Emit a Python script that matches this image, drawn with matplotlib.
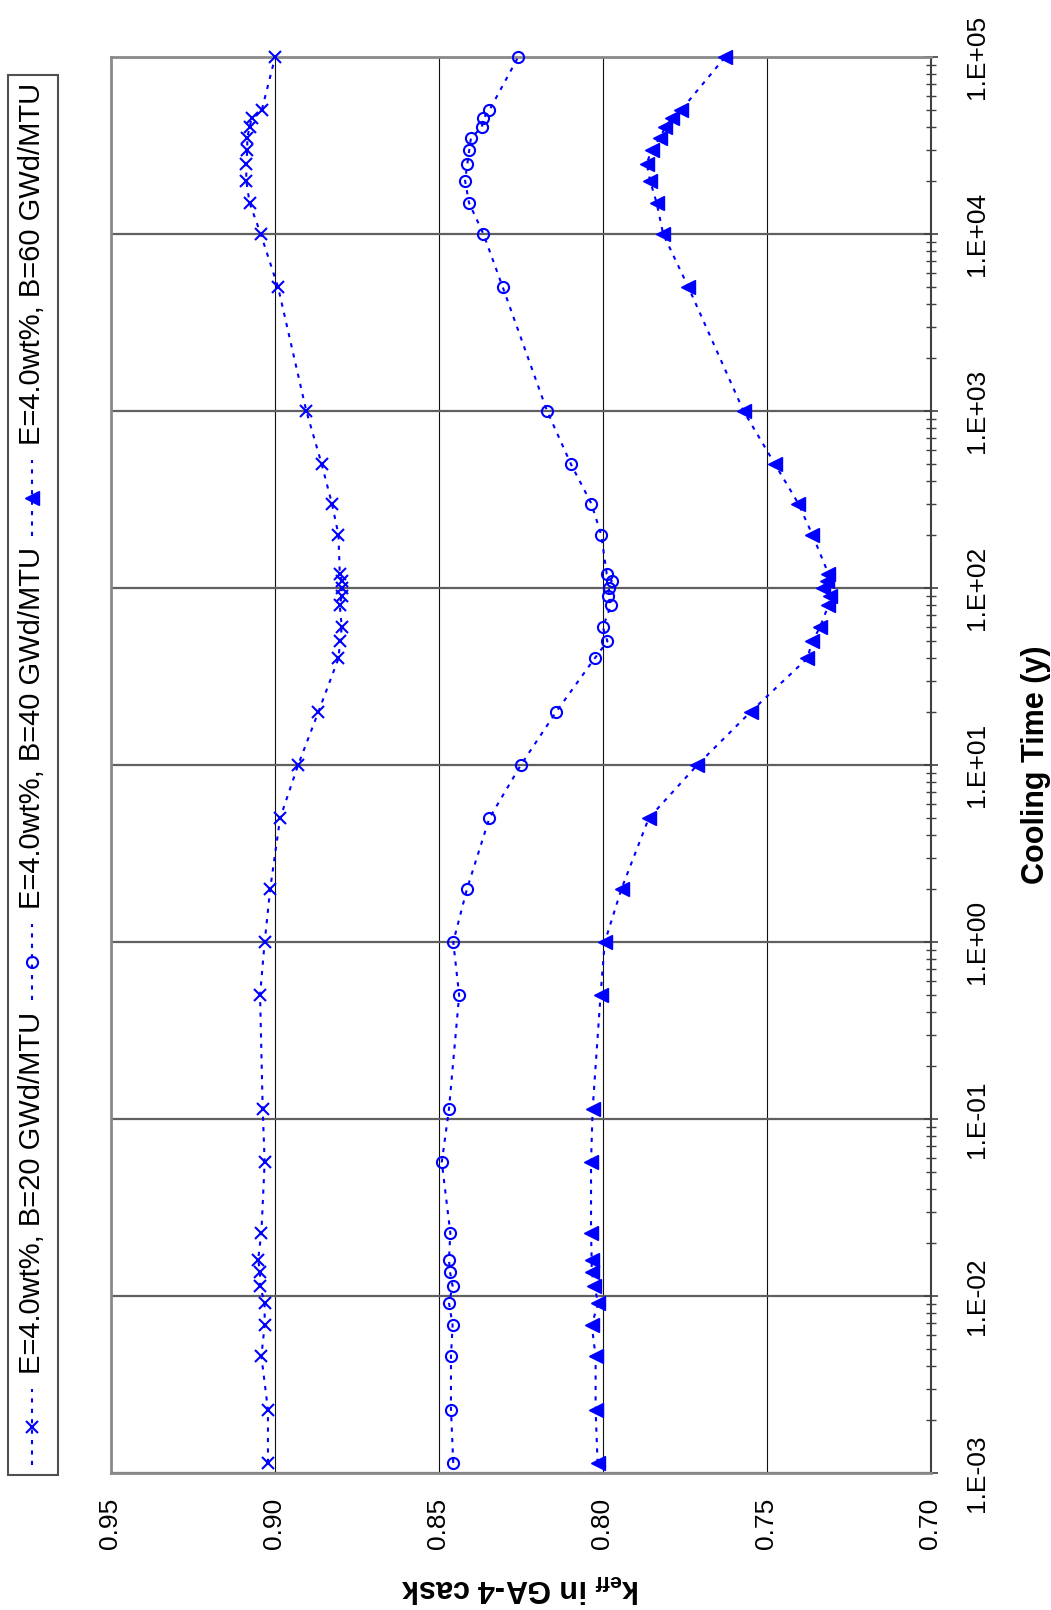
import numpy as np
import matplotlib
matplotlib.use("Agg")
from matplotlib import pyplot as plt
from matplotlib.lines import Line2D
from matplotlib.patches import Rectangle
from matplotlib.ticker import FixedLocator, FuncFormatter, LogLocator, NullFormatter

plt.rcParams['font.family'] = ['Liberation Sans', 'DejaVu Sans']
plt.rcParams['mathtext.fontset'] = 'custom'
plt.rcParams['mathtext.rm'] = 'Liberation Sans'
plt.rcParams['mathtext.bf'] = 'Liberation Sans:bold'
plt.rcParams['mathtext.it'] = 'Liberation Sans:italic'

# cooling time in years (same times for all three burnups)
cooling_time = [1.14e-3, 2.28e-3, 4.57e-3, 6.85e-3, 9.13e-3, 1.14e-2, 1.37e-2, 1.6e-2,
                2.28e-2, 5.7e-2, 0.114, 0.5, 1, 2, 5, 10, 20, 40, 50, 60, 80, 90, 100,
                110, 120, 200, 300, 500, 1000, 5000, 1e4, 1.5e4, 2e4, 2.5e4, 3e4,
                3.5e4, 4e4, 4.5e4, 5e4, 1e5]

keff_b20 = [0.9020, 0.9020, 0.9040, 0.9030, 0.9030, 0.9044, 0.9044, 0.9050, 0.9040,
            0.9030, 0.9036, 0.9044, 0.9030, 0.9013, 0.8983, 0.8928, 0.8866, 0.8805,
            0.8800, 0.8795, 0.8801, 0.8795, 0.8795, 0.8795, 0.8801, 0.8805, 0.8825,
            0.8856, 0.8903, 0.8989, 0.9042, 0.9076, 0.9086, 0.9086, 0.9083, 0.9083,
            0.9076, 0.9070, 0.9039, 0.8998]

keff_b40 = [0.8455, 0.8462, 0.8462, 0.8457, 0.8468, 0.8457, 0.8465, 0.8468, 0.8464,
            0.8490, 0.8468, 0.8437, 0.8455, 0.8413, 0.8345, 0.8249, 0.8141, 0.8024,
            0.7985, 0.7999, 0.7974, 0.7982, 0.7980, 0.7972, 0.7987, 0.8004, 0.8034,
            0.8096, 0.8169, 0.8304, 0.8363, 0.8407, 0.8419, 0.8412, 0.8406, 0.8401,
            0.8368, 0.8363, 0.8345, 0.8257]

keff_b60 = [0.8015, 0.8021, 0.8021, 0.8033, 0.8013, 0.8025, 0.8033, 0.8033, 0.8035,
            0.8035, 0.8030, 0.8006, 0.7993, 0.7942, 0.7859, 0.7711, 0.7548, 0.7376,
            0.7360, 0.7337, 0.7311, 0.7306, 0.7328, 0.7316, 0.7311, 0.7360, 0.7403,
            0.7474, 0.7570, 0.7738, 0.7815, 0.7835, 0.7855, 0.7865, 0.7850, 0.7825,
            0.7809, 0.7789, 0.7761, 0.7626]

series_labels = ["E=4.0wt%, B=20 GWd/MTU", "E=4.0wt%, B=40 GWd/MTU", "E=4.0wt%, B=60 GWd/MTU"]
keff_ticks = [0.95, 0.90, 0.85, 0.80, 0.75, 0.70]
time_decades = [1e-3, 1e-2, 1e-1, 1e0, 1e1, 1e2, 1e3, 1e4, 1e5]

W, H = 1051, 1610
fig = plt.figure(figsize=(W / 100, H / 100), dpi=100)

def fx(x):
    return x / W

def fy(y):
    # pixel measured from the top of the image
    return 1 - y / H

# the whole chart is turned on its side: keff runs left->right (inverted), time runs upwards
ax = fig.add_axes([fx(110.5), fy(1473), fx(930.5) - fx(110.5), fy(57) - fy(1473)])

blue = '#0000ff'
dash = (0, (2, 3))
styles = [
    dict(marker='x', ms=9, mew=1.5, mec=blue, mfc=blue),
    dict(marker='o', ms=8, mew=1.5, mec=blue, mfc='none'),
    dict(marker='<', ms=10, mew=1, mec=blue, mfc=blue),
]
all_keff = [keff_b20, keff_b40, keff_b60]

for keff, st in zip(all_keff, styles):
    ax.plot(keff, cooling_time, color=blue, lw=1.5, ls=dash, clip_on=False, zorder=3, **st)

ax.set_yscale('log')
ax.set_ylim(1e-3, 1e5)
ax.set_xlim(0.95, 0.70)

# keff axis (bottom of the picture)
ax.xaxis.set_major_locator(FixedLocator(keff_ticks))
ax.xaxis.set_major_formatter(FuncFormatter(lambda v, p: "%.2f" % v))
ax.tick_params(axis='x', length=0, pad=18, labelsize=19, labelrotation=90)

# cooling time axis on the right
ax.yaxis.tick_right()
ax.yaxis.set_major_locator(FixedLocator(time_decades))
ax.yaxis.set_major_formatter(FuncFormatter(lambda v, p: "1.E{:+03d}".format(int(round(np.log10(v))))))
ax.yaxis.set_minor_locator(LogLocator(base=10, subs=np.arange(2, 10), numticks=100))
ax.yaxis.set_minor_formatter(NullFormatter())
ax.tick_params(axis='y', which='major', direction='inout', length=10, width=1.2,
               color='#404040', pad=20, labelsize=19, labelrotation=90)
ax.tick_params(axis='y', which='minor', direction='inout', length=7, width=1.0, color='#404040')
for lab in ax.get_yticklabels():
    lab.set_verticalalignment('center')

ax.grid(axis='x', which='major', color='#101010', lw=0.8)
ax.grid(axis='y', which='major', color='#606060', lw=1.6)
ax.set_axisbelow(True)

for side in ['left', 'top', 'bottom']:
    ax.spines[side].set_color('#8a8a8a')
    ax.spines[side].set_linewidth(2)
ax.spines['right'].set_color('#404040')
ax.spines['right'].set_linewidth(1.5)

ax.set_ylabel("Cooling Time (y)", fontsize=22, fontweight='bold', rotation=90,
              ha='center', va='center')
ax.yaxis.set_label_position('right')
ax.yaxis.set_label_coords((1021 - 110.5) / 820, 0.5)

ax.set_xlabel(r"k$_{\mathbf{eff}}$ in GA-4 cask", fontsize=22, fontweight='bold', rotation=180,
              ha='center', va='center')
ax.xaxis.set_label_coords(0.5, (1473 - 1588) / 1416.0)

# legend, drawn by hand because it has to be rotated as well
fig.add_artist(Rectangle((fx(7.5), fy(1475)), fx(57.5) - fx(7.5), fy(75) - fy(1475),
                         transform=fig.transFigure, fill=True, facecolor='white',
                         edgecolor='#505050', lw=1.5))
leg_x = 32
marker_y = [1427, 962, 498]
for label, st, my in zip(series_labels, styles, marker_y):
    ys = [fy(my + 38), fy(my), fy(my - 38)]
    fig.add_artist(Line2D([fx(leg_x)] * 3, ys, transform=fig.transFigure, color=blue,
                          lw=1.5, ls=dash, markevery=[1], **st))
    fig.text(fx(leg_x), fy(my - 53), label, rotation=90, ha='center', va='bottom', fontsize=21)

fig.savefig("out.png", dpi=100)
